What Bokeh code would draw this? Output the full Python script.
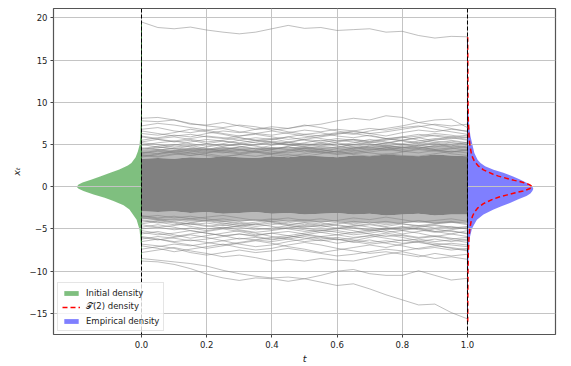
from bokeh.plotting import figure
from bokeh.models import Legend, LegendItem, Span, FixedTicker
from bokeh.embed import file_html
from bokeh.resources import INLINE

# ---------------- data ----------------
t_grid = [0.0, 0.05, 0.1, 0.15, 0.2, 0.25, 0.3, 0.35, 0.4, 0.45, 0.5,
          0.55, 0.6, 0.65, 0.7, 0.75, 0.8, 0.85, 0.9, 0.95, 1.0]

# dense core of the sample paths (solid grey region)
core_upper = [3.3, 3.4, 3.3, 3.5, 3.4, 3.6, 3.5, 3.4, 3.6, 3.5, 3.7,
              3.6, 3.5, 3.7, 3.6, 3.8, 3.7, 3.6, 3.8, 3.7, 3.6]
core_lower = [-2.9, -3.0, -2.9, -3.1, -3.0, -3.2, -3.1, -3.0, -3.2, -3.1, -3.3,
              -3.2, -3.1, -3.3, -3.2, -3.4, -3.3, -3.2, -3.4, -3.3, -3.3]
# half-dense zone just outside the core
mid_upper = [4.3, 4.5, 4.4, 4.6, 4.5, 4.7, 4.6, 4.5, 4.7, 4.6, 4.8,
             4.7, 4.6, 4.8, 4.7, 4.9, 4.8, 4.7, 4.9, 4.8, 4.7]
mid_lower = [-3.8, -4.0, -3.9, -4.1, -4.0, -4.2, -4.1, -4.0, -4.2, -4.1, -4.3,
             -4.2, -4.1, -4.3, -4.2, -4.4, -4.3, -4.2, -4.4, -4.3, -4.3]

path_top = [19.5, 18.85, 18.7, 18.9, 18.55, 18.3, 18.1, 18.3, 18.7, 19.1, 18.75,
            18.85, 18.5, 18.6, 18.7, 18.3, 18.4, 17.9, 17.6, 17.8, 17.75]
path_low_a = [-8.8, -8.9, -9.2, -9.7, -10.35, -10.8, -11.1, -10.8, -10.9, -11.2, -10.9,
              -11.3, -11.7, -11.5, -12.1, -12.8, -13.4, -14.0, -13.9, -14.9, -15.65]
path_low_b = [-8.5, -8.7, -8.9, -9.1, -9.4, -9.9, -10.3, -10.6, -10.8, -10.7, -10.9,
              -10.5, -10.0, -9.8, -10.3, -10.5, -10.5, -9.95, -10.5, -11.05, -10.85]

upper_paths = [
    [8.1, 8.2, 7.9, 7.4, 7.3, 7.6, 7.2, 6.8, 6.9, 6.5, 6.2, 6.4, 6.0, 5.8, 6.1, 5.7, 5.5, 5.8, 5.4, 5.2, 5.0],
    [7.8, 7.7, 7.9, 7.5, 7.2, 7.0, 7.3, 7.1, 6.7, 6.9, 7.2, 7.4, 7.8, 8.1, 7.9, 8.4, 8.2, 7.6, 7.3, 6.9, 6.5],
    [6.8, 7.0, 6.6, 6.4, 6.7, 6.3, 6.0, 6.2, 5.9, 5.6, 5.8, 6.1, 6.4, 6.2, 6.6, 6.9, 7.2, 7.6, 7.9, 8.0, 7.0],
    [6.3, 6.1, 6.4, 6.8, 6.5, 6.2, 5.8, 5.5, 5.7, 5.3, 5.0, 4.8, 5.1, 4.7, 4.4, 4.6, 4.2, 4.0, 4.3, 3.9, 3.7],
    [5.9, 5.6, 5.3, 5.5, 5.1, 4.8, 5.0, 5.3, 5.6, 5.9, 6.2, 6.0, 6.3, 6.6, 6.9, 6.7, 7.0, 7.2, 6.8, 6.5, 6.2],
    [5.5, 5.8, 6.1, 5.9, 6.3, 6.6, 6.4, 6.8, 7.1, 6.9, 7.3, 7.0, 6.6, 6.3, 6.0, 5.7, 5.9, 5.5, 5.2, 5.4, 5.1],
    [5.2, 5.0, 4.7, 4.9, 4.5, 4.2, 4.4, 4.1, 3.9, 4.2, 4.5, 4.8, 4.6, 5.0, 5.3, 5.1, 5.5, 5.8, 6.1, 5.9, 5.6],
    [4.9, 5.2, 5.4, 5.1, 4.8, 5.1, 5.5, 5.8, 5.6, 5.9, 5.5, 5.2, 4.9, 5.2, 5.6, 5.3, 5.0, 4.7, 4.4, 4.6, 4.3],
    [4.6, 4.4, 4.1, 4.3, 4.0, 4.3, 4.7, 5.0, 5.4, 5.2, 5.6, 5.9, 6.2, 6.5, 6.3, 6.0, 6.4, 6.7, 6.5, 6.8, 6.6],
    [4.3, 4.6, 4.9, 5.3, 5.6, 5.4, 5.1, 4.8, 4.5, 4.7, 4.3, 4.0, 4.2, 3.9, 4.1, 4.4, 4.7, 4.5, 4.9, 5.2, 5.0],
    [4.1, 3.9, 4.2, 4.5, 4.3, 4.6, 4.4, 4.1, 4.4, 4.8, 5.1, 4.9, 5.3, 5.6, 5.4, 5.7, 5.4, 5.1, 5.5, 5.8, 5.5],
    [3.9, 4.2, 4.0, 3.7, 3.9, 3.6, 3.8, 4.1, 3.8, 3.6, 3.9, 4.2, 4.5, 4.3, 4.0, 3.8, 4.1, 4.4, 4.2, 4.5, 4.8],
    [3.7, 3.5, 3.8, 4.1, 4.4, 4.8, 5.1, 4.9, 5.2, 5.0, 4.7, 4.4, 4.1, 4.4, 4.7, 4.9, 4.6, 4.9, 5.2, 4.9, 4.6],
    [3.6, 3.9, 4.3, 4.0, 3.7, 3.5, 3.8, 3.6, 3.9, 4.3, 4.6, 4.4, 4.1, 3.8, 3.6, 3.9, 3.7, 3.6, 3.9, 4.2, 4.0],
    [7.2, 7.5, 7.3, 7.0, 6.7, 6.9, 6.5, 6.3, 6.6, 6.3, 6.0, 5.7, 5.4, 5.6, 5.3, 5.6, 5.9, 6.2, 6.0, 5.7, 5.9],
    [6.6, 6.3, 6.0, 6.2, 5.9, 5.7, 6.0, 6.3, 6.1, 6.4, 6.7, 6.5, 6.8, 6.6, 6.3, 6.5, 6.8, 7.1, 7.4, 7.2, 7.4],
    [5.0, 4.7, 4.5, 4.8, 5.1, 5.4, 5.2, 5.5, 5.3, 5.0, 4.8, 5.1, 4.8, 4.5, 4.8, 5.2, 5.5, 5.2, 5.6, 5.9, 6.1],
    [4.4, 4.7, 4.5, 4.2, 4.5, 4.3, 4.0, 4.3, 4.6, 4.4, 4.1, 4.5, 4.7, 5.0, 4.7, 4.4, 4.2, 4.5, 4.3, 4.1, 4.4],
    [4.0, 4.3, 4.6, 4.4, 4.7, 5.0, 4.8, 4.5, 4.2, 4.0, 4.3, 4.1, 3.8, 4.0, 4.3, 4.6, 4.9, 5.2, 5.0, 4.7, 4.9],
    [3.8, 3.6, 3.9, 3.7, 4.0, 4.4, 4.7, 4.5, 4.9, 5.2, 4.9, 5.2, 5.5, 5.3, 5.0, 4.7, 4.4, 4.7, 4.4, 4.1, 4.3],
    [4.5, 4.8, 5.0, 4.7, 4.4, 4.1, 3.9, 4.2, 4.0, 3.8, 3.6, 3.9, 4.2, 4.6, 4.9, 5.2, 5.0, 4.8, 5.1, 4.8, 5.3],
    [5.3, 5.6, 5.4, 5.7, 6.0, 5.8, 5.5, 5.2, 5.0, 5.3, 5.6, 5.4, 5.7, 5.5, 5.2, 5.5, 5.8, 6.0, 6.3, 6.1, 5.8],
    [3.5, 3.8, 4.1, 3.9, 4.2, 4.0, 4.3, 4.6, 4.4, 4.7, 4.5, 4.2, 3.9, 4.2, 4.5, 4.3, 4.6, 4.9, 4.7, 5.0, 4.7],
    [6.0, 5.7, 5.9, 5.6, 5.3, 5.5, 5.8, 5.5, 5.2, 4.9, 5.2, 5.5, 5.2, 4.9, 5.1, 4.8, 5.1, 5.4, 5.7, 5.5, 5.2],
]

lower_paths = [
    [-7.8, -7.5, -7.2, -7.6, -7.9, -8.3, -8.1, -8.4, -8.8, -8.6, -8.8, -8.5, -8.7, -8.8, -8.4, -8.0, -7.7, -8.1, -8.5, -8.3, -8.6],
    [-7.0, -7.3, -7.7, -7.4, -7.1, -6.8, -7.2, -7.5, -7.3, -6.9, -6.6, -6.9, -7.3, -7.6, -7.9, -7.7, -8.0, -8.3, -7.9, -8.2, -8.0],
    [-6.5, -6.2, -6.6, -6.9, -7.3, -7.0, -6.7, -6.4, -6.7, -7.1, -7.4, -7.8, -7.5, -7.2, -6.9, -7.2, -6.8, -6.5, -6.9, -7.3, -7.6],
    [-6.0, -6.3, -6.0, -5.7, -6.0, -6.4, -6.8, -7.1, -6.9, -6.5, -6.2, -5.9, -6.2, -6.6, -6.3, -6.7, -7.0, -7.4, -7.2, -7.5, -7.3],
    [-5.6, -5.3, -5.7, -6.1, -5.8, -5.5, -5.2, -5.5, -5.9, -6.2, -6.5, -6.3, -6.7, -6.4, -6.0, -5.7, -6.0, -6.4, -6.7, -6.9, -7.1],
    [-5.2, -5.5, -5.9, -5.6, -5.3, -5.0, -5.3, -5.7, -5.5, -5.8, -5.5, -5.2, -4.9, -5.2, -5.6, -5.9, -5.7, -6.0, -5.8, -6.1, -6.4],
    [-4.8, -4.5, -4.8, -5.2, -5.5, -5.8, -6.2, -6.0, -6.3, -6.0, -5.7, -5.4, -5.7, -5.4, -5.1, -5.4, -5.2, -5.5, -5.9, -5.6, -5.9],
    [-4.5, -4.8, -4.6, -4.3, -4.6, -4.9, -4.7, -4.4, -4.7, -5.0, -5.3, -5.1, -5.4, -5.7, -5.5, -5.2, -5.6, -5.3, -5.0, -5.3, -5.5],
    [-4.2, -4.0, -4.3, -4.7, -5.0, -4.8, -5.1, -5.4, -5.2, -4.9, -4.6, -4.8, -4.5, -4.8, -5.1, -4.9, -5.2, -4.9, -5.3, -5.6, -5.2],
    [-3.9, -4.2, -4.5, -4.3, -4.0, -3.8, -4.1, -3.9, -4.2, -4.5, -4.3, -4.6, -4.9, -4.6, -4.4, -4.7, -4.4, -4.7, -4.5, -4.8, -5.0],
    [-3.6, -3.4, -3.7, -3.5, -3.8, -4.1, -4.4, -4.2, -3.9, -3.7, -4.0, -3.8, -4.1, -4.4, -4.2, -4.5, -4.3, -4.0, -4.3, -4.1, -4.4],
    [-3.4, -3.7, -3.5, -3.8, -3.6, -3.4, -3.7, -4.0, -3.8, -4.1, -3.9, -4.2, -4.0, -3.7, -3.9, -3.6, -3.9, -4.2, -4.0, -3.8, -4.1],
    [-7.4, -7.1, -6.8, -7.0, -6.7, -6.4, -6.1, -6.3, -6.0, -5.8, -6.1, -6.4, -6.2, -6.5, -6.8, -6.6, -6.3, -6.6, -6.9, -6.7, -6.9],
    [-6.8, -7.0, -7.3, -7.8, -8.1, -7.8, -7.5, -7.8, -7.6, -7.3, -7.6, -7.9, -8.2, -8.0, -7.7, -7.4, -7.6, -7.3, -7.0, -7.2, -7.5],
    [-5.9, -6.2, -6.5, -6.3, -6.6, -6.9, -6.6, -6.3, -6.5, -6.2, -5.9, -6.2, -6.0, -6.3, -6.6, -6.4, -6.7, -6.5, -6.2, -6.5, -6.2],
    [-5.0, -4.8, -5.1, -4.9, -5.2, -4.9, -4.6, -4.9, -5.1, -4.8, -5.1, -5.4, -5.2, -5.5, -5.3, -5.0, -4.8, -5.1, -5.4, -5.2, -5.6],
    [-4.0, -4.3, -4.1, -4.4, -4.7, -4.5, -4.8, -5.1, -4.9, -4.6, -4.9, -5.2, -5.0, -4.7, -4.5, -4.8, -5.1, -4.8, -4.6, -4.9, -4.7],
    [-3.7, -3.9, -4.2, -4.5, -4.3, -4.6, -4.4, -4.7, -4.5, -4.2, -4.5, -4.3, -4.6, -4.9, -5.2, -5.0, -4.7, -5.0, -5.3, -5.1, -4.8],
    [-4.4, -4.1, -3.9, -4.2, -4.0, -4.3, -4.6, -4.4, -4.1, -4.4, -4.7, -4.5, -4.2, -4.5, -4.8, -5.1, -4.9, -4.6, -4.9, -4.7, -5.0],
    [-5.4, -5.7, -5.5, -5.2, -5.5, -5.8, -5.6, -5.9, -6.2, -6.0, -5.7, -6.0, -6.3, -6.1, -5.8, -6.1, -6.4, -6.2, -6.5, -6.3, -6.6],
    [-3.5, -3.8, -4.0, -3.8, -4.1, -4.4, -4.2, -4.5, -4.3, -4.6, -4.8, -4.6, -4.4, -4.1, -4.3, -4.1, -4.4, -4.6, -4.4, -4.2, -4.5],
    [-6.2, -5.9, -6.1, -6.4, -6.2, -5.9, -5.6, -5.8, -5.5, -5.3, -5.6, -5.9, -5.7, -6.0, -5.8, -5.5, -5.8, -6.1, -5.9, -6.2, -6.0],
]

# initial density (drawn to the left of t = 0), width in t units
init_y = [-9, -7, -5.1, -3.9, -2.7, -2.2, -1.7, -1.3, -0.92, -0.5, -0.25, 0, 0.25, 0.5,
          0.83, 1.2, 1.62, 2.04, 2.5, 2.8, 3.5, 4.2, 4.95, 6, 8, 12, 19.5]
init_w = [0, 0.0015, 0.006, 0.015, 0.037, 0.055, 0.086, 0.113, 0.147, 0.178, 0.193, 0.199,
          0.193, 0.181, 0.155, 0.127, 0.098, 0.068, 0.042, 0.031, 0.018, 0.011, 0.006,
          0.0037, 0.0018, 0.0009, 0]

# empirical density at t = 1 (drawn to the right of t = 1)
emp_y = [-16, -12, -9, -7.5, -6.2, -5, -4.5, -3.9, -3.3, -2.7, -2.3, -1.9, -1.5, -1.1, -0.8,
         -0.5, -0.25, 0, 0.4, 0.86, 1.25, 1.65, 2.0, 2.43, 2.8, 3.2, 4, 5, 6, 7, 9, 12, 17.7]
emp_w = [0, 0.001, 0.0025, 0.0043, 0.006, 0.0135, 0.02, 0.029, 0.049, 0.08, 0.104, 0.132,
         0.156, 0.181, 0.193, 0.199, 0.202, 0.199, 0.184, 0.161, 0.138, 0.11, 0.08, 0.054,
         0.04, 0.031, 0.021, 0.015, 0.009, 0.0055, 0.0025, 0.0012, 0]

# T(2) density at t = 1
t2_y = [-16, -10, -8, -6, -5, -4, -3.5, -3, -2.5, -2, -1.5, -1.25, -1, -0.75, -0.5, -0.25, 0,
        0.25, 0.5, 0.75, 1, 1.25, 1.5, 2, 2.5, 3, 3.5, 4, 5, 6, 8, 10, 17.7]
t2_w = [0.0006, 0.0015, 0.0025, 0.0046, 0.007, 0.0116, 0.0153, 0.0214, 0.032, 0.049, 0.077,
        0.095, 0.119, 0.144, 0.171, 0.19, 0.199, 0.19, 0.171, 0.144, 0.119, 0.095, 0.077,
        0.049, 0.032, 0.0214, 0.0153, 0.0116, 0.007, 0.0046, 0.0025, 0.0015, 0.0006]

x_ticks = [0.0, 0.2, 0.4, 0.6, 0.8, 1.0]
y_ticks = [-15, -10, -5, 0, 5, 10, 15, 20]
y_tick_labels = {-15: "\u221215", -10: "\u221210", -5: "\u22125", 0: "0",
                 5: "5", 10: "10", 15: "15", 20: "20"}
x_tick_labels = {0.0: "0.0", 0.2: "0.2", 0.4: "0.4", 0.6: "0.6", 0.8: "0.8", 1.0: "1.0"}

# ---------------- figure ----------------
FONT = "DejaVu Sans"
FS = "8.5px"
p = figure(width=563, height=366, x_range=(-0.27, 1.27), y_range=(-17.5, 21.1),
           output_backend="svg", toolbar_location=None,
           min_border_left=53, min_border_right=8, min_border_top=8, min_border_bottom=31)
p.background_fill_color = "white"
p.border_fill_color = "white"
p.outline_line_color = "#555555"
p.outline_line_width = 1.2

t0 = t_grid[0]
t1 = t_grid[-1]

# densities (below the grid)
green = p.harea(y=init_y, x1=[t0 - w for w in init_w], x2=[t0] * len(init_w),
                fill_color="green", fill_alpha=0.5, level="image")
blue = p.harea(y=emp_y, x1=[t1] * len(emp_w), x2=[t1 + w for w in emp_w],
               fill_color="blue", fill_alpha=0.5, level="image")

# sample paths
p.varea(x=t_grid, y1=core_upper, y2=mid_upper, fill_color="gray", fill_alpha=0.55)
p.varea(x=t_grid, y1=mid_lower, y2=core_lower, fill_color="gray", fill_alpha=0.55)
p.varea(x=t_grid, y1=core_lower, y2=core_upper, fill_color="#808080", fill_alpha=1.0)
all_paths = upper_paths + lower_paths + [path_top, path_low_a, path_low_b]
p.multi_line(xs=[t_grid] * len(all_paths), ys=all_paths,
             line_color="gray", line_alpha=0.5, line_width=1)

# edges along t = 0 and t = 1
p.line(x=[t0, t0], y=[init_y[0], init_y[-1]], line_color="#2f6f2f", line_width=1)
p.line(x=[t1, t1], y=[emp_y[0], emp_y[-1]], line_color="#202040", line_width=1)

for tv in (t0, t1):
    p.add_layout(Span(location=tv, dimension="height", line_color="black",
                      line_dash="4 2", line_width=1))

red = p.line(x=[t1 + w for w in t2_w], y=t2_y, line_color="red",
             line_dash="5 3", line_width=1.5)

# axes
p.xaxis.ticker = FixedTicker(ticks=x_ticks)
p.xaxis.major_label_overrides = x_tick_labels
p.yaxis.ticker = FixedTicker(ticks=y_ticks)
p.yaxis.major_label_overrides = y_tick_labels
p.xgrid.ticker = FixedTicker(ticks=x_ticks)
p.ygrid.ticker = FixedTicker(ticks=y_ticks)
for g in (p.xgrid, p.ygrid):
    g.grid_line_color = "#c4c4c4"
    g.grid_line_width = 1
for ax in (p.xaxis, p.yaxis):
    ax.axis_line_color = None
    ax.major_tick_line_color = "#444444"
    ax.major_tick_out = 3
    ax.major_tick_in = 0
    ax.minor_tick_line_color = None
    ax.major_label_standoff = 3
    ax.major_label_text_font = FONT
    ax.major_label_text_font_size = FS
    ax.major_label_text_color = "#222222"
    ax.axis_label_text_font = FONT
    ax.axis_label_text_font_size = "9.5px"
    ax.axis_label_text_font_style = "italic"
    ax.axis_label_text_color = "#222222"
p.xaxis.axis_label = "t"
p.yaxis.axis_label = "x\u209c"
p.xaxis.axis_label_standoff = 2
p.yaxis.axis_label_standoff = 5

legend = Legend(items=[
    LegendItem(label="Initial density", renderers=[green]),
    LegendItem(label="\U0001D4AF(2) density", renderers=[red]),
    LegendItem(label="Empirical density", renderers=[blue]),
], location=(4, 3))
legend.label_text_font = FONT
legend.label_text_font_size = FS
legend.label_text_color = "#222222"
legend.glyph_width = 18
legend.glyph_height = 6
legend.label_height = 11
legend.spacing = 3
legend.padding = 4
legend.margin = 0
legend.label_standoff = 6
legend.border_line_color = "#cccccc"
legend.background_fill_alpha = 0.8
p.add_layout(legend)

open("out.html", "w").write(file_html(p, INLINE))
